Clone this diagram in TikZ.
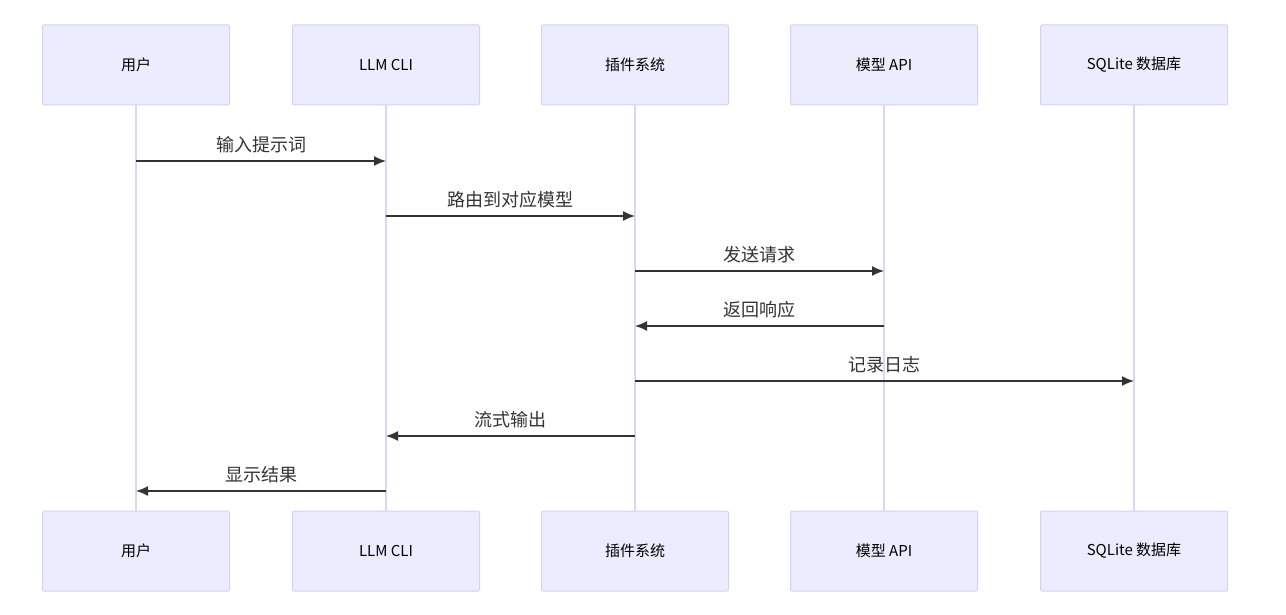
\documentclass[tikz,border=0pt]{standalone}
\usepackage{fontspec}
\setmainfont{Noto Sans CJK SC}
\usetikzlibrary{positioning,arrows.meta}
\definecolor{actorfill} {RGB}{236,236,255}
\definecolor{actorline} {RGB}{214,208,245}
\definecolor{lifeline}  {RGB}{221,214,243}
\definecolor{colortext} {RGB}{51 ,51 ,51 }

\begin{document}
\begin{tikzpicture}[
    x=1pt, y=-1pt,
    actor/.style={draw=actorline,fill=actorfill,rounded corners=2pt,line width=1pt,
                  minimum width=187pt,minimum height=80pt,inner sep=0pt,
                  font={\fontsize{15}{18}\selectfont},text=black},
    life/.style={draw=lifeline,line width=2.5pt},
    msg/.style={draw=colortext,line width=1.5pt,-{Latex[length=12pt,width=10pt]}},
    lbl/.style={text=colortext,font={\fontsize{18}{22}\selectfont},above=4pt},
]
    \useasboundingbox (0,0) rectangle (1286,615);

    \foreach \name/\x/\txt in {user/136/用户, cli/386/LLM CLI, plug/635/插件系统,
                               api/884/模型 API, db/1134/SQLite 数据库} {
        \draw[life] (\x,105) -- (\x,511);
        \node[actor] (\name top) at (\x,65)  {\txt};
        \node[actor] (\name bot) at (\x,551) {\txt};
    }

    % messages
    \foreach \i/\from/\to/\y/\txt in {1/user/cli/161/输入提示词, 2/cli/plug/216/路由到对应模型,
                                      3/plug/api/271/发送请求, 4/api/plug/326/返回响应,
                                      5/plug/db/381/记录日志, 6/plug/cli/436/流式输出,
                                      7/cli/user/491/显示结果} {
        \coordinate (m\i a) at (\from top.south |- 0,\y);
        \coordinate (m\i b) at (\to top.south |- 0,\y);
        \draw[msg] (m\i a) -- (m\i b) node[lbl,midway] {\txt};
    }
\end{tikzpicture}
\end{document}
